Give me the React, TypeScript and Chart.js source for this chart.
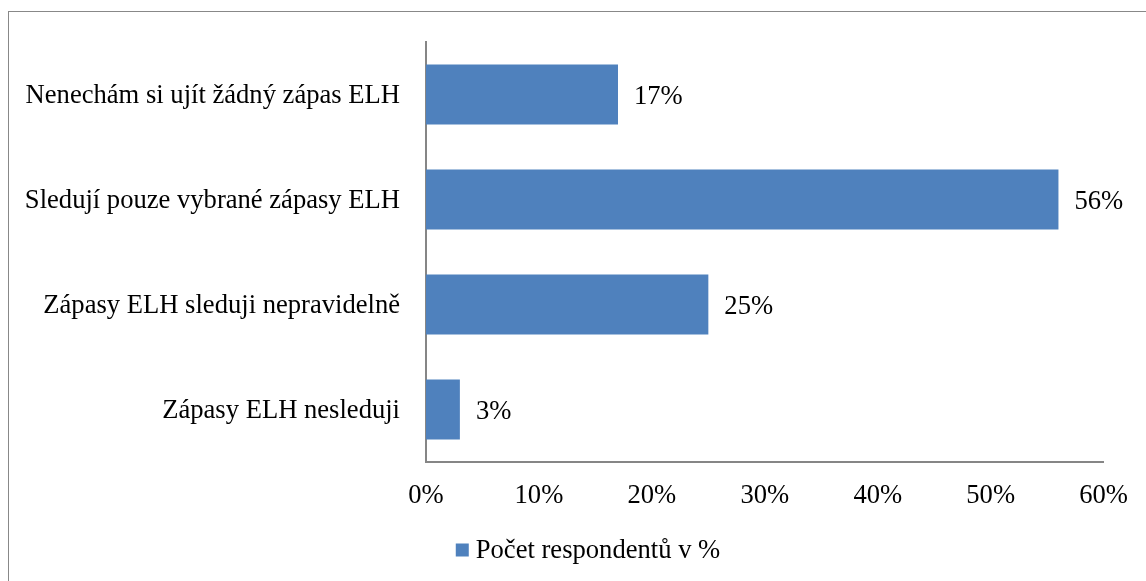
import React, { useEffect, useRef } from "react";
import { Chart, registerables } from "chart.js";

Chart.register(...registerables);

const categories = [
  "Nenechám si ujít žádný zápas ELH",
  "Sledují pouze vybrané zápasy ELH",
  "Zápasy ELH sleduji nepravidelně",
  "Zápasy ELH nesleduji",
];
const values = [17, 56, 25, 3];
const seriesName = "Počet respondentů v %";
const xTicks = [0, 10, 20, 30, 40, 50, 60];

const BAR_COLOR = "#4F81BD";
const FONT = "'Liberation Serif', 'Times New Roman', serif";
const FONT_SIZE = 26.6;

const valueLabels = {
  id: "valueLabels",
  afterDatasetsDraw(chart: any) {
    const ctx = chart.ctx;
    const meta = chart.getDatasetMeta(0);
    ctx.save();
    ctx.font = `${FONT_SIZE}px ${FONT}`;
    ctx.fillStyle = "#000";
    ctx.textAlign = "left";
    ctx.textBaseline = "middle";
    meta.data.forEach((bar: any, i: number) => {
      ctx.fillText(values[i] + "%", bar.x + 16, bar.y + 3);
    });
    ctx.restore();
  },
};

const customLegend = {
  id: "customLegend",
  afterDraw(chart: any) {
    const ctx = chart.ctx;
    ctx.save();
    ctx.font = `${FONT_SIZE}px ${FONT}`;
    const tw = ctx.measureText(seriesName).width;
    const box = 13;
    const gap = 7;
    const total = box + gap + tw;
    const cx = chart.width / 2 + 15;
    const x0 = cx - total / 2;
    const y = 550;
    ctx.fillStyle = BAR_COLOR;
    ctx.fillRect(x0, y - box / 2, box, box);
    ctx.fillStyle = "#000";
    ctx.textBaseline = "middle";
    ctx.textAlign = "left";
    ctx.fillText(seriesName, x0 + box + gap, y + 1);
    ctx.restore();
  },
};

export default function App() {
  const ref = useRef<HTMLCanvasElement>(null);
  useEffect(() => {
    if (!ref.current) return;
    const chart = new Chart(ref.current, {
      type: "bar",
      data: {
        labels: categories,
        datasets: [
          {
            label: seriesName,
            data: values,
            backgroundColor: BAR_COLOR,
            barPercentage: 0.57,
            categoryPercentage: 1,
          },
        ],
      },
      options: {
        indexAxis: "y",
        animation: false,
        responsive: false,
        layout: { padding: { top: 41, right: 42, left: 0, bottom: 0 } },
        plugins: {
          legend: { display: false },
          tooltip: { enabled: false },
        },
        scales: {
          x: {
            min: 0,
            max: 60,
            afterBuildTicks(scale: any) {
              scale.ticks = xTicks.map((v) => ({ value: v }));
            },
            afterFit(scale: any) {
              scale.height = 581 - 462;
            },
            grid: { display: false, drawTicks: false },
            border: { display: true, color: "#868686", width: 2 },
            ticks: {
              color: "#000",
              font: { family: FONT, size: FONT_SIZE },
              padding: 18,
              maxRotation: 0,
              callback: (v: any) => v + "%",
            },
          },
          y: {
            afterFit(scale: any) {
              scale.width = 426;
            },
            grid: { display: false, drawTicks: false },
            border: { display: true, color: "#868686", width: 2 },
            ticks: {
              color: "#000",
              font: { family: FONT, size: FONT_SIZE },
              padding: 26,
              labelOffset: 2,
            },
          },
        },
      },
      plugins: [valueLabels, customLegend],
    });
    return () => chart.destroy();
  }, []);

  return (
    <div
      style={{
        position: "fixed",
        left: 0,
        top: 0,
        width: 1146,
        height: 581,
        overflow: "hidden",
        background: "#fff",
      }}
    >
      <canvas
        ref={ref}
        width={1146}
        height={581}
        style={{ position: "absolute", left: 0, top: 0, width: 1146, height: 581 }}
      />
      <div
        style={{
          position: "absolute",
          left: 8,
          top: 11,
          width: 1300,
          height: 800,
          borderLeft: "1px solid #888888",
          borderTop: "1px solid #888888",
          pointerEvents: "none",
        }}
      />
    </div>
  );
}
